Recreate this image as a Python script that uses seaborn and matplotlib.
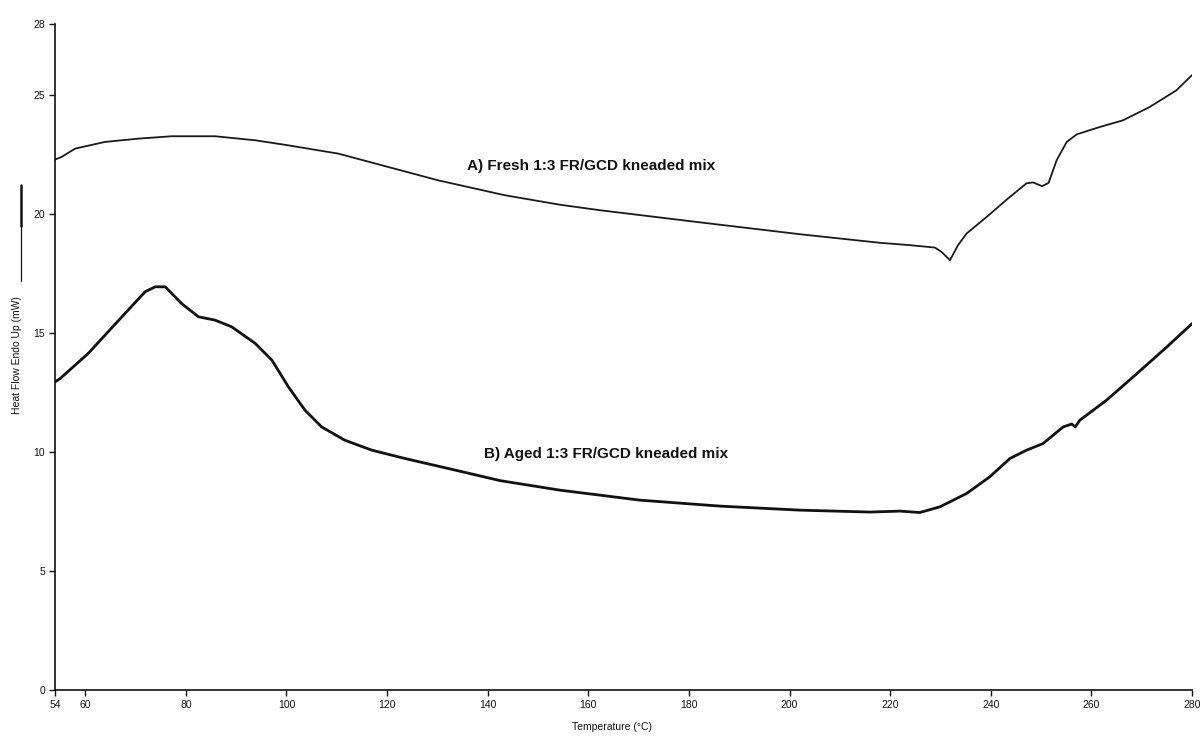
import matplotlib
matplotlib.use("Agg")
import matplotlib.pyplot as plt
import seaborn as sns
import pandas as pd
from matplotlib.lines import Line2D

# DSC heat-flow traces (temperature in °C, heat flow in mW)
fresh_temp = [54, 55.3, 58.0, 63.9, 70.6, 77.2, 85.8, 93.8, 100.3, 110.3, 120.2,
              130.1, 143.4, 154.4, 162.3, 182.2, 202.1, 218.0, 224.0, 228.9, 230.2,
              231.9, 233.5, 235.2, 239.2, 243.2, 247.1, 248.4, 250.2, 251.5, 253.1,
              255.1, 257.1, 261.7, 266.3, 271.6, 276.9, 280]
fresh_flow = [22.3, 22.41, 22.76, 23.04, 23.18, 23.28, 23.28, 23.11, 22.9, 22.55, 21.99,
              21.43, 20.8, 20.4, 20.17, 19.66, 19.16, 18.8, 18.7, 18.6, 18.42,
              18.07, 18.7, 19.19, 19.89, 20.62, 21.3, 21.34, 21.18, 21.32, 22.27,
              23.04, 23.36, 23.67, 23.95, 24.51, 25.21, 25.85]

aged_temp = [54, 55.0, 60.6, 67.3, 71.9, 73.9, 75.9, 79.2, 82.5, 85.8, 89.1, 93.8,
             97.1, 100.4, 103.7, 107.0, 111.6, 117.0, 123.6, 132.2, 142.5, 154.4,
             170.3, 186.2, 202.1, 216.0, 222.0, 225.9, 229.9, 235.2, 239.8, 243.8,
             247.1, 250.4, 254.4, 256.1, 256.8, 257.7, 263.0, 268.3, 275.0, 280]
aged_flow = [12.95, 13.09, 14.15, 15.69, 16.74, 16.95, 16.95, 16.24, 15.69, 15.55, 15.27,
             14.57, 13.87, 12.74, 11.76, 11.06, 10.5, 10.08, 9.73, 9.31, 8.8, 8.4,
             7.98, 7.73, 7.56, 7.48, 7.52, 7.46, 7.7, 8.26, 8.96, 9.73,
             10.08, 10.36, 11.06, 11.18, 11.06, 11.34, 12.18, 13.16, 14.42, 15.4]

x_ticks = [54, 60, 80, 100, 120, 140, 160, 180, 200, 220, 240, 260, 280]
y_ticks = [0, 5, 10, 15, 20, 25, 28]

label_fresh = "A) Fresh 1:3 FR/GCD kneaded mix"
label_aged = "B) Aged 1:3 FR/GCD kneaded mix"

sns.set_theme(style="ticks")
plt.rcParams["font.family"] = ["Liberation Sans", "DejaVu Sans"]

fresh = pd.DataFrame({"Temperature": fresh_temp, "HeatFlow": fresh_flow})
aged = pd.DataFrame({"Temperature": aged_temp, "HeatFlow": aged_flow})

fig = plt.figure(figsize=(12.04, 7.40), dpi=100)
ax = fig.add_axes([0.0457, 0.0676, 0.9443, 0.9000])

sns.lineplot(data=fresh, x="Temperature", y="HeatFlow", ax=ax,
             color="#1a1a1a", linewidth=1.3, solid_joinstyle="round")
sns.lineplot(data=aged, x="Temperature", y="HeatFlow", ax=ax,
             color="#111111", linewidth=2.0, solid_joinstyle="round")

ax.set_xlim(54, 280)
ax.set_ylim(0, 28)
ax.set_xticks(x_ticks)
ax.set_yticks(y_ticks)
ax.tick_params(axis="both", labelsize=7.5, length=4, width=1.0,
               colors="#111111", pad=3)
for side in ("top", "right"):
    ax.spines[side].set_visible(False)
for side in ("left", "bottom"):
    ax.spines[side].set_linewidth(1.2)
    ax.spines[side].set_color("#111111")

ax.set_xlabel("")
ax.set_ylabel("")

fig.text(0.508, 0.011, "Temperature (°C)", fontsize=7.5, ha="center", va="bottom",
         color="#111111")
fig.text(0.014, 0.52, "Heat Flow Endo Up (mW)", fontsize=7.5, rotation=90,
         ha="center", va="center", color="#111111")
# arrow-style marker next to the y label pointing up
fig.add_artist(Line2D([0.0175, 0.0175], [0.62, 0.695], transform=fig.transFigure,
                      color="#111111", linewidth=0.9))
fig.add_artist(Line2D([0.0175, 0.0175], [0.695, 0.75], transform=fig.transFigure,
                      color="#111111", linewidth=1.8))

ax.text(160.5, 22.05, label_fresh, fontsize=11, fontweight="bold",
        ha="center", va="center", color="#111111")
ax.text(163.5, 9.9, label_aged, fontsize=11, fontweight="bold",
        ha="center", va="center", color="#111111")

fig.savefig("out.png", dpi=100, facecolor="white")
